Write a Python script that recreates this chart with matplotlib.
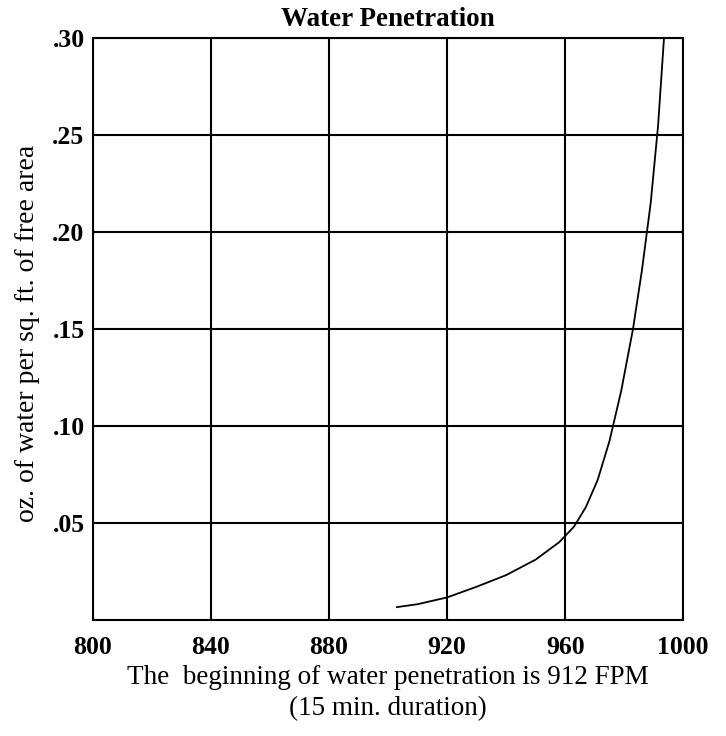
import matplotlib.pyplot as plt

# curve
speed = [903, 910, 920, 930, 940, 950, 958, 963, 967, 971, 975, 979, 983, 986, 989, 991.5, 993.5]
water = [0.0065, 0.008, 0.0115, 0.017, 0.023, 0.031, 0.040, 0.048, 0.058, 0.072, 0.092, 0.118, 0.150, 0.180, 0.215, 0.255, 0.300]

x_ticks = [800, 840, 880, 920, 960, 1000]
y_ticks = [0.05, 0.10, 0.15, 0.20, 0.25, 0.30]
y_labels = ['.05', '.10', '.15', '.20', '.25', '.30']

plt.rcParams['font.family'] = ['Liberation Serif', 'DejaVu Serif']

fig = plt.figure(figsize=(7.26, 7.36), dpi=100)
ax = fig.add_axes([0.128, 0.158, 0.813, 0.79])

ax.plot(speed, water, color='black', linewidth=1.3, solid_joinstyle='round')

ax.set_xlim(800, 1000)
ax.set_ylim(0, 0.30)
ax.set_xticks(x_ticks)
ax.set_yticks(y_ticks)
ax.set_yticklabels(y_labels)
ax.tick_params(length=0, labelsize=18.5)
for lbl in ax.get_xticklabels() + ax.get_yticklabels():
    lbl.set_fontweight('bold')
ax.tick_params(axis='x', pad=12)
ax.tick_params(axis='y', pad=6)

ax.grid(True, color='black', linewidth=1.5)
for s in ax.spines.values():
    s.set_linewidth(1.5)

ax.set_title('Water Penetration', fontsize=19.5, fontweight='bold', pad=9)
ax.set_xlabel('The  beginning of water penetration is 912 FPM\n(15 min. duration)',
              fontsize=19.5, labelpad=4, linespacing=1.3)
ax.set_ylabel('oz. of water per sq. ft. of free area', fontsize=20)
ax.yaxis.set_label_coords(-0.09, 0.493)

fig.savefig('out.png', dpi=100)
